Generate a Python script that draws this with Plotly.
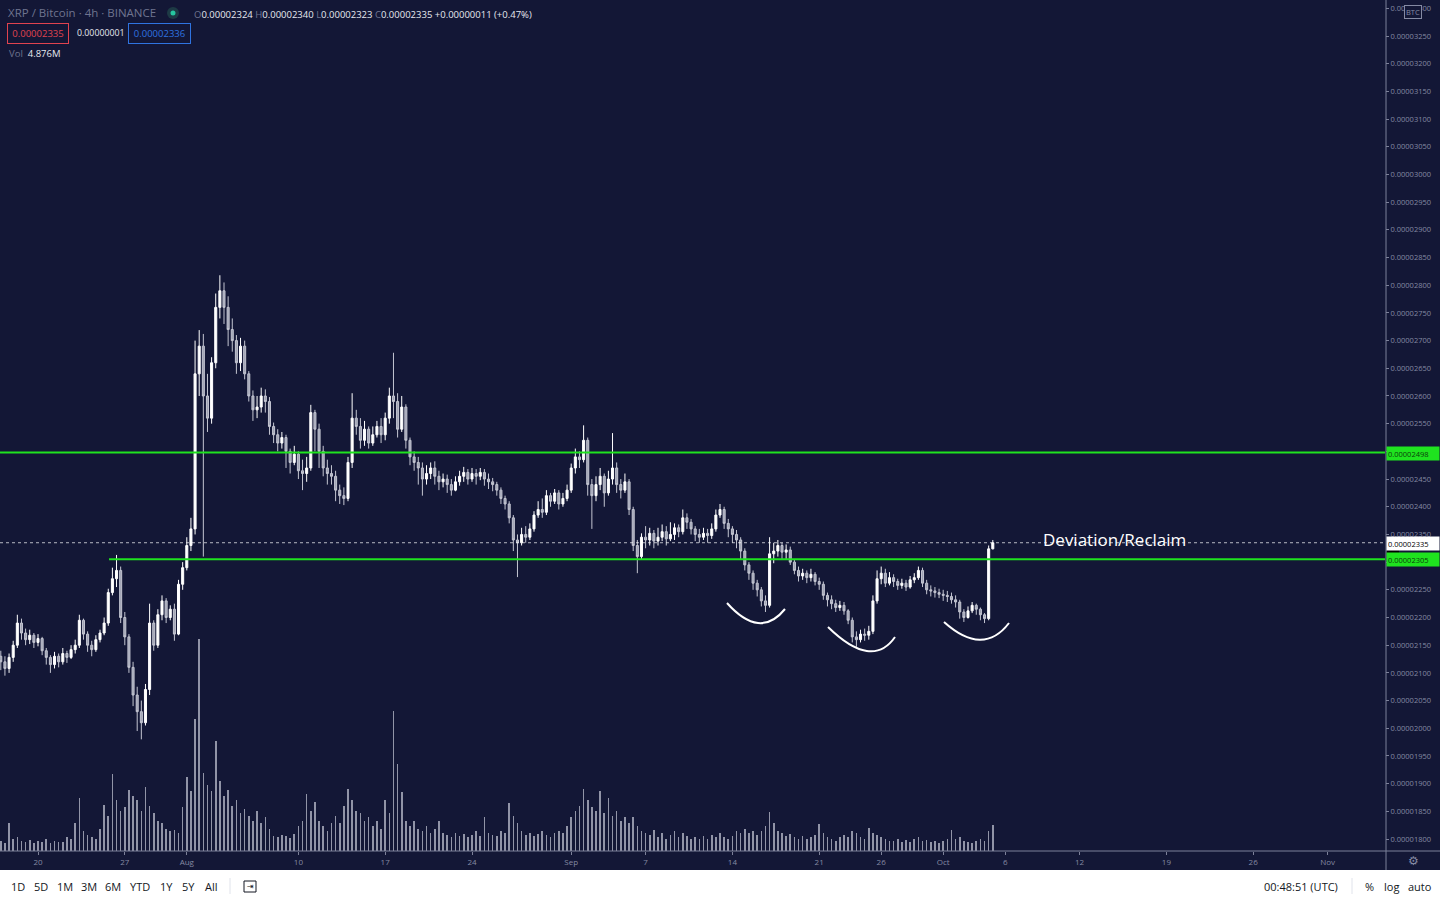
import pandas as pd
import plotly.graph_objects as go

# ---------------- data (prices in satoshi, 8h bars from 2020-07-17 00:00) ----------------
START = "2020-07-17 00:00"
FIRST_OPEN = 2130
close_sat = [
    2120, 2108, 2128,  2150, 2190, 2172,  2160, 2168, 2155,  2162, 2140, 2128,
    2115, 2130, 2120,  2135, 2128, 2142,  2150, 2195, 2170,  2150, 2142, 2160,
    2172, 2190, 2245,  2270, 2285, 2200,  2165, 2110, 2060,  2030, 2010, 2070,
    2190, 2150, 2205,  2230, 2200, 2215,  2170, 2260, 2290,  2330, 2360, 2640,
    2690, 2600, 2560,  2660, 2760, 2790,  2760, 2720, 2700,  2660, 2690, 2640,
    2600, 2575, 2580,  2600, 2590, 2545,  2530, 2515, 2525,  2500, 2480, 2495,
    2465, 2460, 2470,  2570, 2540, 2500,  2470, 2460, 2455,  2430, 2420, 2415,
    2480, 2560, 2545,  2520, 2540, 2515,  2530, 2545, 2530,  2560, 2600, 2590,
    2540, 2580, 2520,  2490, 2480, 2470,  2450, 2460, 2470,  2455, 2445, 2450,
    2440, 2430, 2445,  2455, 2462, 2450,  2460, 2455, 2462,  2450, 2445, 2440,
    2430, 2415, 2405,  2380, 2340, 2335,  2350, 2345, 2360,  2385, 2395, 2390,
    2420, 2410, 2425,  2405, 2415, 2430,  2470, 2490, 2485,  2520, 2440, 2420,
    2440, 2455, 2425,  2450, 2470, 2440,  2430, 2445, 2395,  2330, 2310, 2345,
    2340, 2352, 2338,  2345, 2355, 2342,  2350, 2362, 2355,  2380, 2372, 2360,
    2350, 2345, 2352,  2348, 2360, 2385,  2395, 2370, 2360,  2350, 2340, 2320,
    2295, 2280, 2262,  2250, 2230, 2222,  2315, 2320, 2330,  2318, 2322, 2300,
    2285, 2275, 2280,  2272, 2278, 2265,  2260, 2240, 2232,  2225, 2218, 2222,
    2212, 2195, 2165,  2160, 2170, 2168,  2175, 2230, 2270,  2280, 2262, 2272,
    2265, 2258, 2262,  2255, 2268, 2272,  2285, 2262, 2250,  2248, 2245, 2242,
    2240, 2238, 2232,  2228, 2210, 2200,  2212, 2222, 2215,  2205, 2198, 2324,
    2335,
]
high_sat = [
    2140, 2130, 2135,  2158, 2205, 2198,  2180, 2178, 2172,  2170, 2165, 2145,
    2132, 2138, 2135,  2145, 2140, 2150,  2160, 2205, 2198,  2175, 2158, 2168,
    2178, 2200, 2252,  2290, 2313, 2292,  2210, 2170, 2120,  2075, 2050, 2080,
    2225, 2195, 2215,  2240, 2235, 2222,  2225, 2268, 2300,  2345, 2380, 2700,
    2719, 2712, 2640,  2670, 2785, 2818,  2805, 2780, 2740,  2710, 2705, 2700,
    2645, 2610, 2600,  2615, 2612, 2598,  2552, 2540, 2535,  2530, 2505, 2510,
    2500, 2485, 2490,  2584, 2575, 2550,  2510, 2485, 2475,  2465, 2440, 2435,
    2490, 2605, 2575,  2560, 2555, 2545,  2545, 2555, 2560,  2570, 2615, 2678,
    2605, 2600, 2585,  2525, 2500, 2490,  2480, 2475, 2480,  2482, 2465, 2460,
    2458, 2450, 2455,  2465, 2472, 2468,  2470, 2468, 2470,  2468, 2460, 2452,
    2445, 2435, 2420,  2410, 2385, 2350,  2362, 2365, 2370,  2392, 2410, 2415,
    2430, 2425, 2432,  2430, 2425, 2440,  2478, 2505, 2500,  2547, 2525, 2450,
    2455, 2470, 2460,  2465, 2533, 2480,  2450, 2460, 2450,  2400, 2340, 2352,
    2365, 2362, 2358,  2362, 2368, 2365,  2372, 2370, 2368,  2395, 2388, 2378,
    2365, 2360, 2362,  2360, 2370, 2395,  2405, 2400, 2378,  2365, 2358, 2345,
    2325, 2300, 2285,  2268, 2255, 2240,  2345, 2335, 2340,  2335, 2332, 2328,
    2305, 2292, 2288,  2285, 2288, 2282,  2272, 2265, 2245,  2240, 2232, 2230,
    2228, 2215, 2200,  2175, 2178, 2180,  2185, 2240, 2285,  2292, 2288, 2282,
    2278, 2270, 2270,  2268, 2275, 2280,  2292, 2290, 2268,  2258, 2255, 2252,
    2250, 2248, 2245,  2240, 2232, 2215,  2220, 2228, 2225,  2218, 2208, 2330,
    2340,
]
low_sat = [
    2105, 2095, 2100,  2120, 2145, 2160,  2150, 2152, 2145,  2148, 2132, 2115,
    2100, 2108, 2110,  2115, 2118, 2125,  2135, 2145, 2160,  2138, 2130, 2138,
    2155, 2168, 2185,  2240, 2255, 2190,  2150, 2100, 2040,  1995, 1980, 2005,
    2060, 2140, 2145,  2195, 2190, 2195,  2158, 2168, 2250,  2285, 2320, 2350,
    2600, 2310, 2535,  2550, 2650, 2740,  2730, 2690, 2680,  2640, 2645, 2630,
    2590, 2555, 2560,  2570, 2570, 2530,  2515, 2500, 2505,  2470, 2460, 2475,
    2450, 2430, 2445,  2465, 2500, 2470,  2455, 2440, 2440,  2410, 2405, 2403,
    2410, 2470, 2530,  2505, 2510, 2505,  2510, 2525, 2515,  2520, 2550, 2560,
    2525, 2535, 2505,  2475, 2465, 2440,  2420, 2440, 2450,  2440, 2430, 2435,
    2425, 2420, 2428,  2438, 2445, 2440,  2445, 2440, 2448,  2438, 2432, 2428,
    2420, 2405, 2395,  2370, 2320, 2273,  2330, 2335, 2340,  2355, 2380, 2380,
    2385, 2400, 2405,  2395, 2400, 2410,  2425, 2460, 2470,  2480, 2420, 2360,
    2410, 2430, 2400,  2420, 2440, 2425,  2415, 2425, 2385,  2320, 2280, 2305,
    2325, 2330, 2325,  2330, 2338, 2330,  2338, 2340, 2345,  2350, 2360, 2350,
    2338, 2335, 2340,  2335, 2342, 2355,  2380, 2360, 2345,  2335, 2325, 2305,
    2285, 2268, 2250,  2238, 2220, 2210,  2218, 2298, 2310,  2305, 2305, 2295,
    2278, 2265, 2268,  2262, 2265, 2258,  2250, 2232, 2220,  2215, 2210, 2212,
    2205, 2188, 2155,  2147, 2155, 2158,  2160, 2170, 2225,  2260, 2255, 2258,
    2255, 2250, 2252,  2248, 2252, 2262,  2268, 2255, 2242,  2238, 2236, 2235,
    2230, 2228, 2225,  2218, 2198, 2192,  2198, 2208, 2205,  2195, 2190, 2195,
    2323,
]
volume_m = [
    1.9, 1.5, 5.3,  2.3, 2.7, 1.9,  1.7, 2.1, 1.5,  1.9, 1.7, 2.3,
    1.5, 1.9, 1.7,  1.7, 2.7, 2.3,  5.3, 10.0, 3.8,  3.0, 2.7, 2.3,
    4.2, 8.7, 6.6,  14.5, 9.5, 7.6,  8.3, 11.5, 10.4,  9.5, 7.6, 12.1,
    8.5, 7.2, 5.7,  5.3, 4.2, 3.8,  4.0, 3.4, 8.3,  14.0, 11.3, 24.8,
    39.9, 14.7, 12.5,  11.3, 20.6, 13.2,  10.4, 11.5, 8.5,  9.5, 7.2, 7.9,
    6.6, 5.7, 7.6,  5.3, 6.4, 4.2,  2.8, 2.6, 3.0,  2.8, 2.5, 3.2,
    4.7, 5.7, 10.8,  7.6, 9.3, 5.7,  4.7, 3.8, 5.3,  6.6, 5.3, 8.5,
    11.7, 9.5, 7.6,  7.2, 5.7, 6.4,  4.7, 5.7, 4.2,  9.5, 7.2, 26.3,
    16.3, 11.0, 5.7,  4.7, 5.7, 4.2,  3.8, 4.7, 3.4,  4.2, 5.7, 3.4,
    3.0, 2.6, 3.4,  2.8, 3.2, 2.6,  3.0, 3.8, 2.8,  6.4, 3.4, 3.0,
    2.8, 3.8, 3.4,  9.1, 6.6, 5.3,  3.8, 3.0, 3.4,  2.8, 3.2, 3.8,
    3.0, 2.6, 3.4,  3.8, 3.4, 4.7,  6.4, 7.6, 8.5,  11.7, 9.5, 8.3,
    7.6, 11.2, 7.2,  10.0, 6.6, 7.6,  5.7, 6.4, 5.3,  6.4, 4.7, 3.8,
    3.4, 3.0, 4.0,  2.6, 3.4, 2.3,  3.0, 3.8, 2.6,  3.4, 2.8, 2.3,
    2.6, 2.3, 2.8,  2.3, 3.0, 2.6,  3.4, 2.6, 2.3,  2.8, 3.8, 3.4,
    4.2, 3.4, 3.8,  3.0, 3.8, 4.7,  7.4, 5.3, 3.8,  3.4, 2.8, 3.2,
    2.6, 2.3, 2.8,  2.3, 2.6, 3.0,  5.1, 3.4, 2.6,  2.3, 1.9, 2.6,
    3.0, 2.6, 3.8,  3.4, 2.6, 2.3,  4.3, 3.4, 3.0,  2.6, 2.3, 1.9,
    1.9, 2.3, 1.7,  2.1, 1.7, 2.3,  2.6, 1.9, 2.1,  1.7, 1.9, 1.5,
    1.9, 2.3, 4.0,  2.3, 2.6, 1.9,  1.7, 1.5, 1.9,  2.3, 1.9, 3.8,
    4.876,
]
support_sat = 2305
resistance_sat = 2498
last_sat = 2335

x_tick_dates = ["2020-07-20", "2020-07-27", "2020-08-01", "2020-08-10", "2020-08-17",
                "2020-08-24", "2020-09-01", "2020-09-07", "2020-09-14", "2020-09-21",
                "2020-09-26", "2020-10-01", "2020-10-06", "2020-10-12", "2020-10-19",
                "2020-10-26", "2020-11-01"]
x_tick_text = ["20", "27", "Aug", "10", "17", "24", "Sep", "7", "14", "21", "26",
               "Oct", "6", "12", "19", "26", "Nov"]
y_tick_sat = list(range(1800, 3301, 50))

# ---------------- derived ----------------
SAT = 1e-8
n = len(close_sat)
dates = pd.date_range(START, periods=n, freq="8h")
open_sat = [FIRST_OPEN] + close_sat[:-1]
open_sat[-1] = 2324
hi = [max(h, o, c) for h, o, c in zip(high_sat, open_sat, close_sat)]
lo = [min(l, o, c) for l, o, c in zip(low_sat, open_sat, close_sat)]

BG = "#131736"
GRID_TXT = "#858aa3"
AXLINE = "#7d8199"
GREEN = "#1fe31f"

W, H = 1440, 900
PW, PH = 1385, 851


def px(x):
    return x / PW


def py(y):
    return (PH - y) / PH


fig = go.Figure()
fig.add_trace(go.Bar(
    x=dates, y=volume_m, yaxis="y2", width=3 * 3600 * 1000,
    marker=dict(color="rgba(200,202,215,0.7)", line=dict(width=0)),
    hoverinfo="skip", showlegend=False))
fig.add_trace(go.Candlestick(
    x=dates,
    open=[v * SAT for v in open_sat], high=[v * SAT for v in hi],
    low=[v * SAT for v in lo], close=[v * SAT for v in close_sat],
    increasing=dict(line=dict(color="#ffffff", width=1), fillcolor="#ffffff"),
    decreasing=dict(line=dict(color="#c4c6d2", width=1), fillcolor="#9fa2b3"),
    whiskerwidth=0, showlegend=False))

shapes = []
shapes.append(dict(type="line", xref="paper", yref="y", x0=0, x1=1,
                   y0=resistance_sat * SAT, y1=resistance_sat * SAT,
                   line=dict(color=GREEN, width=2)))
shapes.append(dict(type="line", xref="paper", yref="y", x0=px(109), x1=1,
                   y0=support_sat * SAT, y1=support_sat * SAT,
                   line=dict(color=GREEN, width=2)))
shapes.append(dict(type="line", xref="paper", yref="y", x0=0, x1=1,
                   y0=last_sat * SAT, y1=last_sat * SAT,
                   line=dict(color="rgba(255,255,255,0.7)", width=1, dash="dot")))
arcs = [((727, 603), (760, 640), (785, 609)),
        ((828, 627), (872, 670), (895, 637)),
        ((944, 622), (983, 657), (1009, 623))]
for (a, c, b) in arcs:
    shapes.append(dict(type="path", xref="paper", yref="paper",
                       path=f"M {px(a[0])},{py(a[1])} Q {px(c[0])},{py(c[1])} {px(b[0])},{py(b[1])}",
                       line=dict(color="#ffffff", width=2)))
shapes.append(dict(type="line", xref="paper", yref="paper", x0=px(1386), x1=px(1386),
                   y0=py(0), y1=py(870), line=dict(color=AXLINE, width=1)))
shapes.append(dict(type="line", xref="paper", yref="paper", x0=0, x1=px(1440),
                   y0=py(851), y1=py(851), line=dict(color=AXLINE, width=1)))
shapes.append(dict(type="rect", xref="paper", yref="paper", x0=px(-2), x1=px(1442),
                   y0=py(902), y1=py(870), fillcolor="#ffffff", line=dict(width=0),
                   layer="above"))
shapes.append(dict(type="line", xref="paper", yref="paper", x0=px(230), x1=px(230),
                   y0=py(878), y1=py(894), line=dict(color="#e0e3eb", width=1), layer="above"))
shapes.append(dict(type="line", xref="paper", yref="paper", x0=px(1352), x1=px(1352),
                   y0=py(878), y1=py(894), line=dict(color="#e0e3eb", width=1), layer="above"))
shapes.append(dict(type="rect", xref="paper", yref="paper", x0=px(244), x1=px(256),
                   y0=py(892), y1=py(881), line=dict(color="#131722", width=1), layer="above"))
shapes.append(dict(type="circle", xref="paper", yref="paper", x0=px(167), x1=px(179),
                   y0=py(19), y1=py(7), fillcolor="#1d3a45", line=dict(width=0)))
shapes.append(dict(type="circle", xref="paper", yref="paper", x0=px(170.5), x1=px(175.5),
                   y0=py(15.5), y1=py(10.5), fillcolor="#26c6a0", line=dict(width=0)))
shapes.append(dict(type="rect", xref="paper", yref="paper", x0=px(1387), x1=px(1399),
                   y0=py(553), y1=py(550), fillcolor="#000000", line=dict(width=0), layer="above"))

F = "Open Sans"
ann = []


def txt(x, y, text, size=9.5, color="#d1d4dc", xanchor="left", **kw):
    ann.append(dict(xref="paper", yref="paper", x=px(x), y=py(y), text=text,
                    showarrow=False, xanchor=xanchor, yanchor="middle",
                    font=dict(family=kw.pop("family", F), size=size, color=color), **kw))


G = "#6f748f"
txt(6, 13, "XRP / Bitcoin · 4h · BINANCE", size=11.5, color=G)
ohlc = (f"<span style='color:{G}'>O</span>0.00002324 "
        f"<span style='color:{G}'>H</span>0.00002340 "
        f"<span style='color:{G}'>L</span>0.00002323 "
        f"<span style='color:{G}'>C</span>0.00002335 "
        f"+0.00000011 (+0.47%)")
txt(192, 14, ohlc, size=9.5, color="#e6e8ef")
txt(7, 33.5, "0.00002335", size=9.5, color="#e0434f", bordercolor="#e0434f",
    borderwidth=1, borderpad=3, width=54)
txt(75, 33.5, "0.00000001", size=8.8, color="#e6e8ef")
txt(128, 33.5, "0.00002336", size=9.5, color="#2f73e0", bordercolor="#2f73e0",
    borderwidth=1, borderpad=3, width=55)
txt(7, 54, f"<span style='color:{G}'>Vol</span>  4.876M", size=9.5, color="#e6e8ef")

txt(1041, 540, "Deviation/Reclaim", size=17, color="#ffffff")

txt(1386, 453, f"{resistance_sat * SAT:.8f}", size=7.5, color="#0b3d0b", bgcolor=GREEN,
    width=50, height=11, borderpad=1, align="left")
txt(1386, 543, f"{last_sat * SAT:.8f}", size=7.5, color="#000000", bgcolor="#ffffff",
    width=50, height=11, borderpad=1, align="left")
txt(1386, 559, f"{support_sat * SAT:.8f}", size=7.5, color="#0b3d0b", bgcolor=GREEN,
    width=50, height=11, borderpad=1, align="left")
txt(1413, 12, "BTC", size=7.5, color=GRID_TXT, xanchor="center", bgcolor=BG,
    bordercolor=GRID_TXT, borderwidth=1, borderpad=1)
txt(1413, 861, "⚙", size=12, color=GRID_TXT, xanchor="center", family="DejaVu Sans")

DK = "#131722"
for label, xc in [("1D", 18), ("5D", 41), ("1M", 65), ("3M", 89), ("6M", 113),
                  ("YTD", 140), ("1Y", 166), ("5Y", 188), ("All", 211)]:
    txt(xc, 886, label, size=11, color=DK, xanchor="center")
txt(250, 886, "⇥", size=8, color=DK, xanchor="center", family="DejaVu Sans")
txt(1301, 886, "00:48:51 (UTC)", size=11, color=DK, xanchor="center")
txt(1369, 886, "%", size=11, color=DK, xanchor="center")
txt(1391, 886, "log", size=11, color=DK, xanchor="center")
txt(1420, 886, "auto", size=11, color=DK, xanchor="center")

t0 = pd.Timestamp("2020-07-16 22:27")
x_end = t0 + pd.Timedelta(days=PW / 12.4)

fig.update_layout(
    width=W, height=H,
    margin=dict(l=0, r=W - PW, t=0, b=H - PH),
    paper_bgcolor=BG, plot_bgcolor=BG,
    showlegend=False,
    shapes=shapes, annotations=ann,
    xaxis=dict(type="date", range=[t0, x_end], rangeslider=dict(visible=False),
               tickvals=pd.to_datetime(x_tick_dates), ticktext=x_tick_text,
               showgrid=False, zeroline=False, showline=False,
               ticks="outside", ticklen=3, tickcolor=AXLINE,
               tickfont=dict(family=F, size=8, color=GRID_TXT)),
    yaxis=dict(side="right", range=[1778.4 * SAT, 3315.0 * SAT],
               tickvals=[v * SAT for v in y_tick_sat],
               ticktext=[f"{v * SAT:.8f}" for v in y_tick_sat],
               showgrid=False, zeroline=False, showline=False,
               ticks="outside", ticklen=3, tickcolor=AXLINE,
               tickfont=dict(family=F, size=7.5, color=GRID_TXT)),
    yaxis2=dict(overlaying="y", range=[0, 160], visible=False, fixedrange=True),
    bargap=0,
)

fig.write_html("out.html", config={"displayModeBar": False},
               post_script="document.body.style.margin='0px';document.body.style.padding='0px';document.body.style.overflow='hidden';")
